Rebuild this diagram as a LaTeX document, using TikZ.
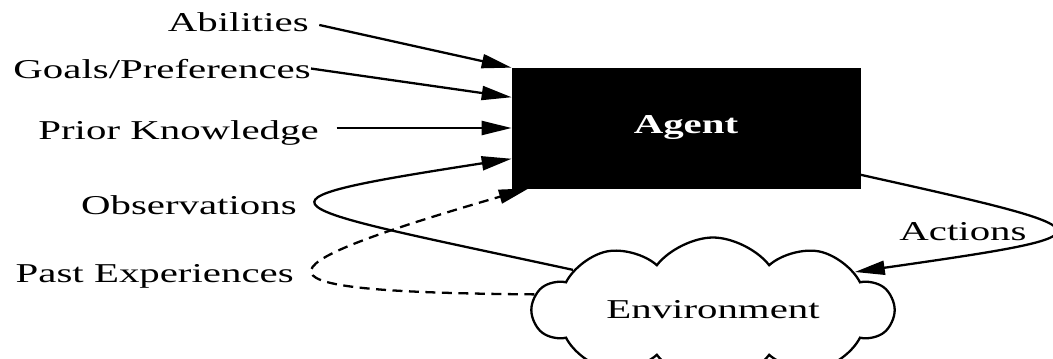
\documentclass[tikz,border=0pt]{standalone}
\usepackage{fontspec}
\setmainfont[FakeStretch=1.5]{Liberation Serif}
\usetikzlibrary{arrows.meta,shapes.symbols}
\tikzset{
  lbl/.style={inner sep=0pt, font=\fontsize{15.5}{18}\selectfont},
  arr/.style={line width=1.3pt, -{Triangle[length=0.6cm,width=0.28cm]}},
  pastdash/.style={dash pattern=on 0.2cm off 0.13cm},
}
\begin{document}
\begin{tikzpicture}[x=0.02cm,y=-0.02cm]
  \useasboundingbox (0,0) rectangle (1053,358);
  %% agent box
  \node[fill=black, draw=black, minimum width=6.96cm, minimum height=2.4cm,
        inner sep=0pt, text=white, font=\fontsize{15.5}{18}\selectfont\bfseries]
        (agent) at (686,128) {Agent};
  %% environment cloud
  \node[cloud, cloud puffs=10, cloud puff arc=105, cloud ignores aspect, draw,
        line width=1.3pt, minimum width=7.2cm, minimum height=2.9cm,
        inner sep=0pt, font=\fontsize{15.5}{18}\selectfont]
        (env) at (713,310) {Environment};

  %% inputs
  \node[lbl, anchor=base east] (abil) at (309,32) {Abilities};
  \node[lbl, anchor=base east] (goals) at (311,78) {Goals/Preferences};
  \node[lbl, anchor=base east] (prior) at (319,139) {Prior Knowledge};
  \node[lbl, anchor=base east] (obs) at (297,214) {Observations};
  \node[lbl, anchor=base east] (past) at (294,282) {Past Experiences};
  \node[lbl, anchor=base] (act) at (963,240) {Actions};

  \draw[arr, shorten <=6pt] (abil.east) -- (agent.north west);
  \draw[arr] (goals.east) -- (agent.170.2);
  \draw[arr, shorten <=10pt] (prior.east |- agent.west) -- (agent.west);

  %% loops
  \draw[arr] (env.164) .. controls (268,204) and (226,203) .. (agent.190.4);
  \draw[arr, pastdash] (env.175.5) .. controls (245,292) and (240,272) .. (agent.201.7);
  \draw[arr] (agent.-15.4) .. controls (1118,232) and (1120,234) .. (env.15);
\end{tikzpicture}
\end{document}
